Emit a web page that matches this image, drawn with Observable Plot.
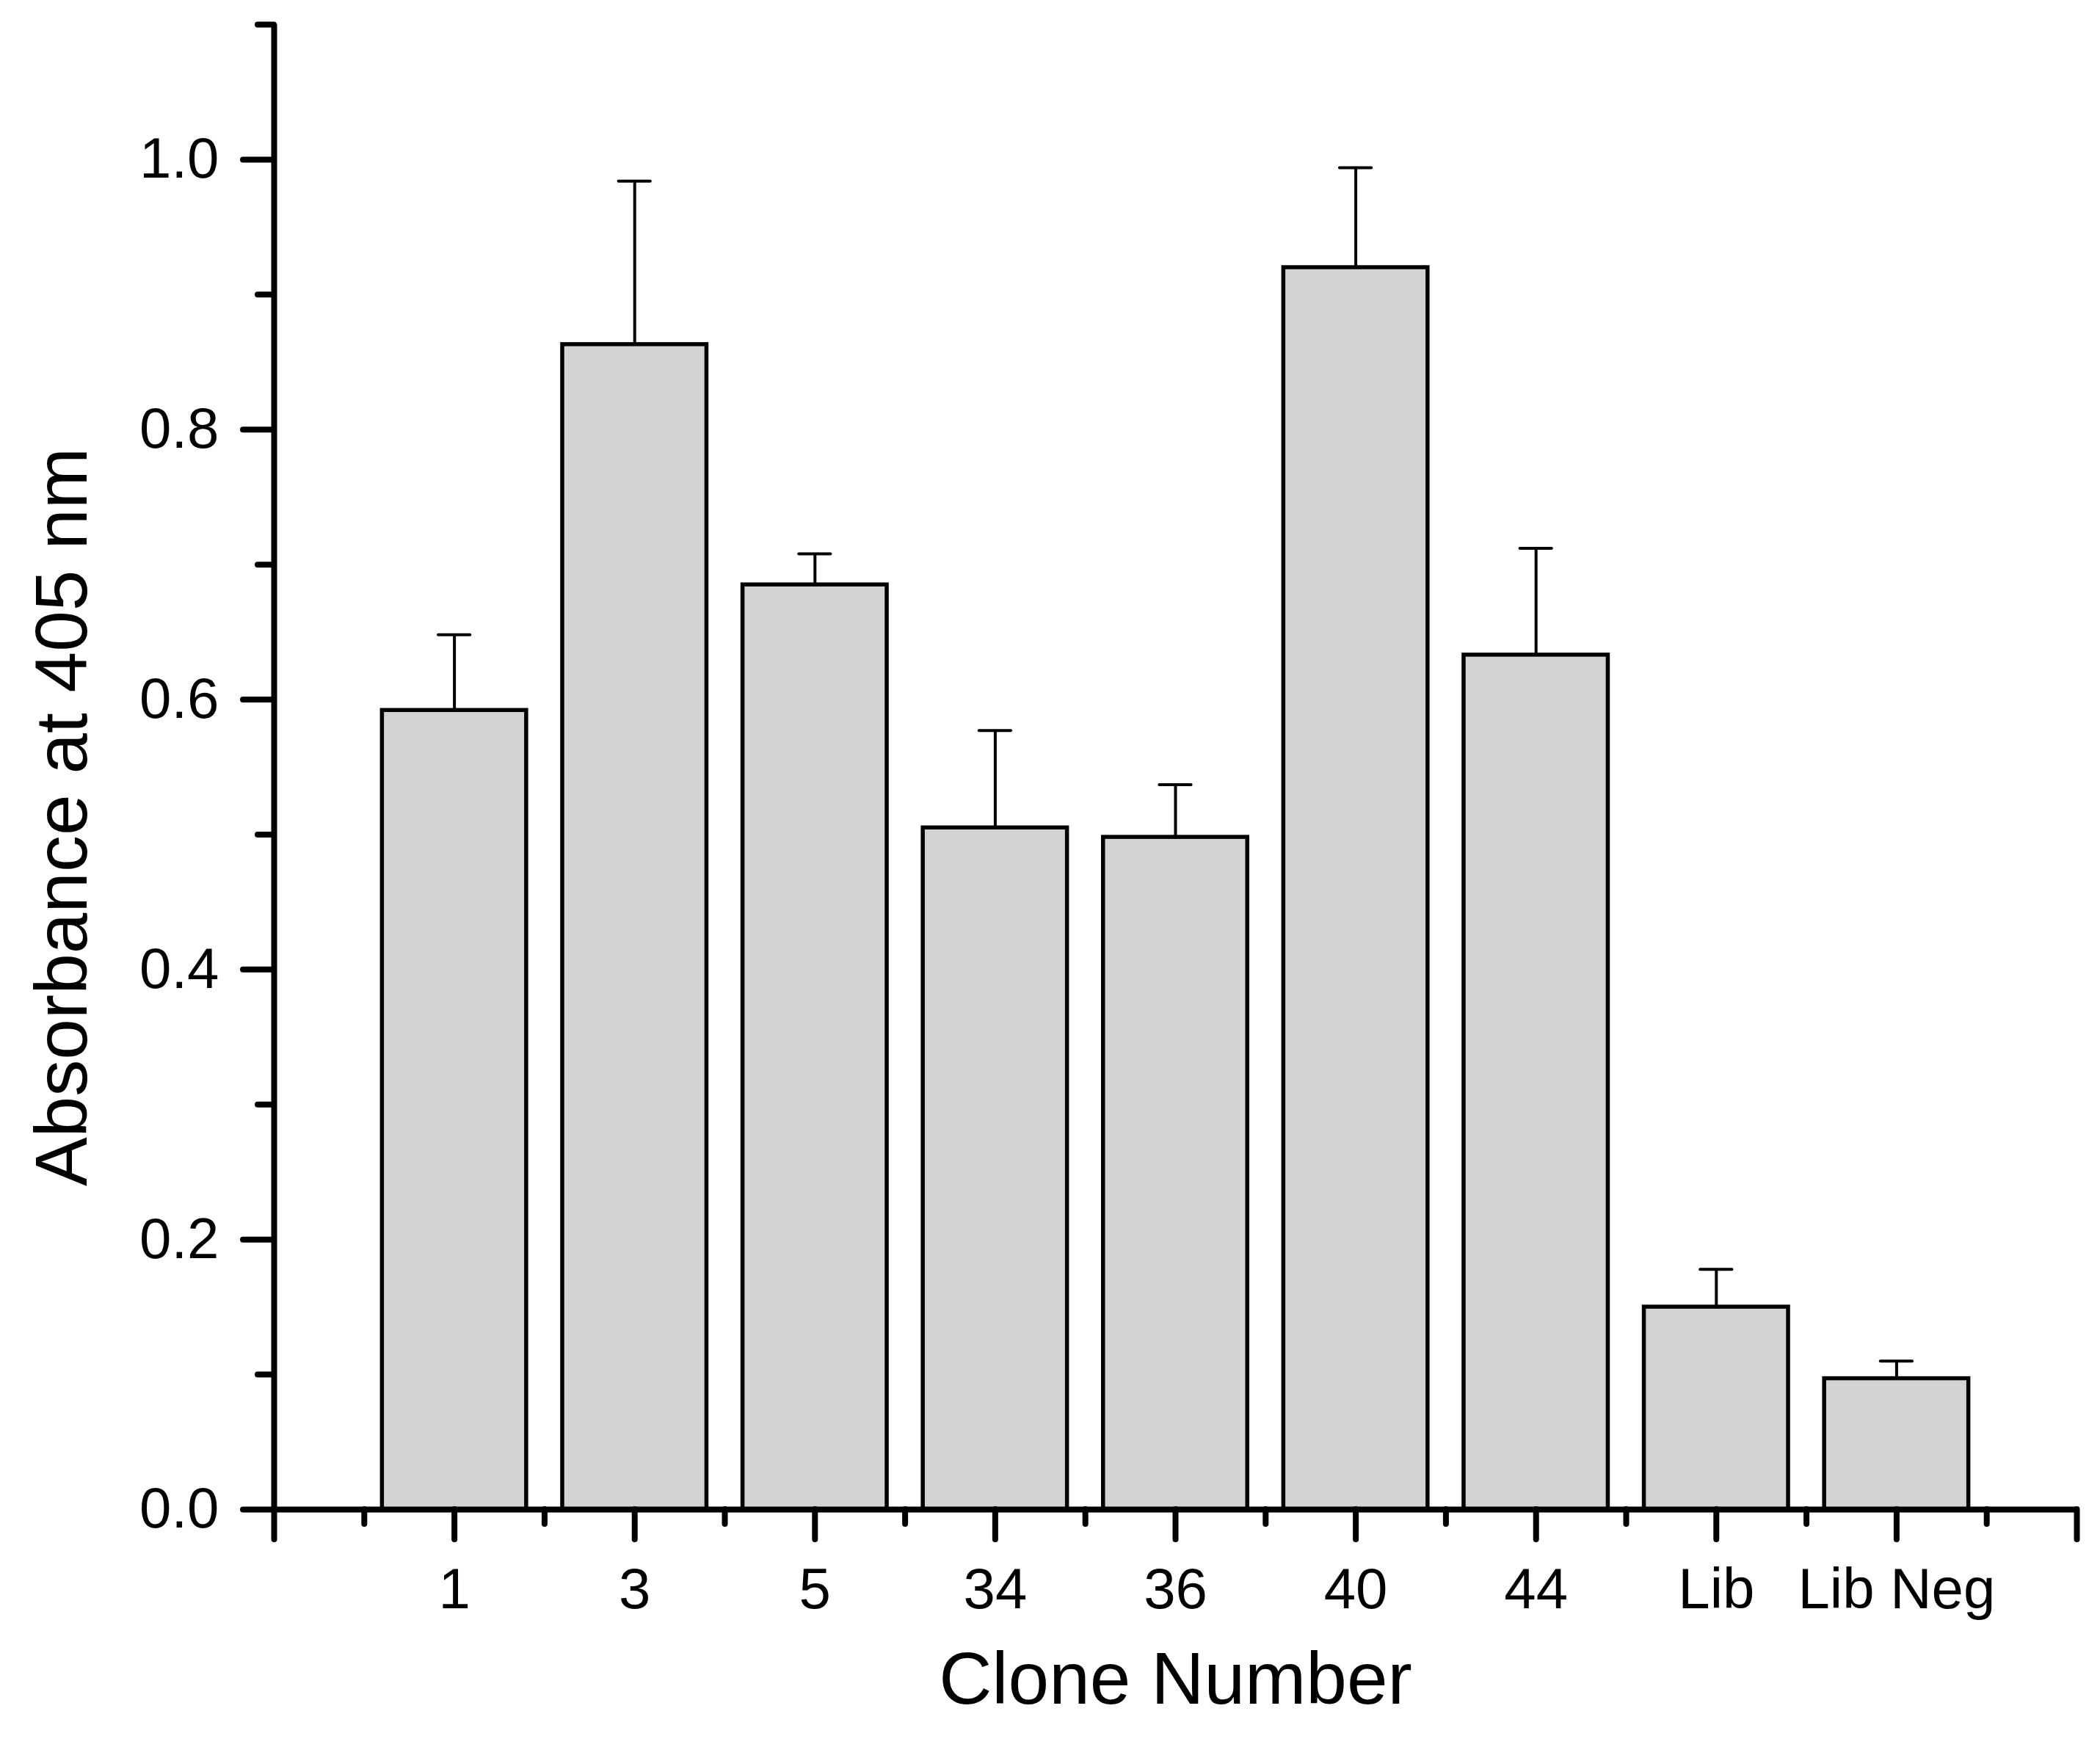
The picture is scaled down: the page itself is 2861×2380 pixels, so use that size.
<!DOCTYPE html>
<html>
<head>
<meta charset="utf-8">
<script src="https://cdn.jsdelivr.net/npm/d3@7"></script>
<script src="https://cdn.jsdelivr.net/npm/@observablehq/plot@0.6"></script>
<style>
  html, body { margin: 0; padding: 0; background: #ffffff; }
  #chart svg { display: block; }
</style>
</head>
<body>
<div id="chart"></div>
<script>
// ---- data ----
const clones = ["1", "3", "5", "34", "36", "40", "44", "Lib", "Lib Neg"];
const absorbance = [0.592, 0.863, 0.685, 0.505, 0.498, 0.920, 0.633, 0.150, 0.097];
const errorUp = [0.056, 0.121, 0.023, 0.072, 0.039, 0.074, 0.079, 0.028, 0.013];

// axis tick values
const yMajorTicks = [0, 0.2, 0.4, 0.6, 0.8, 1.0];
const yMinorTicks = [0.1, 0.3, 0.5, 0.7, 0.9, 1.1];
const xMajorTicks = [0, 1, 2, 3, 4, 5, 6, 7, 8, 9, 10];
const xMinorTicks = [0.5, 1.5, 2.5, 3.5, 4.5, 5.5, 6.5, 7.5, 8.5, 9.5];
const xLabelTicks = [1, 2, 3, 4, 5, 6, 7, 8, 9];

const xTitle = "Clone Number";
const yTitle = "Absorbance at 405 nm";

const table = clones.map((c, i) => ({
  clone: c,
  pos: i + 1,
  mean: absorbance[i],
  top: absorbance[i] + errorUp[i]
}));

const barHalf = 0.4;
const capHalf = 0.088;
const FONT = "'Liberation Sans', Arial, Helvetica, sans-serif";

const chart = Plot.plot({
  width: 2861,
  height: 2380,
  marginLeft: 373,
  marginRight: 32,
  marginTop: 33,
  marginBottom: 324,
  style: { fontFamily: FONT, fontSize: "78px", background: "#ffffff", color: "#000000" },
  x: { type: "linear", domain: [0, 10] },
  y: { domain: [0, 1.1] },
  marks: [
    // bars
    Plot.rectY(table, {
      x1: d => d.pos - barHalf,
      x2: d => d.pos + barHalf,
      y: "mean",
      fill: "#d3d3d3",
      stroke: "#000000",
      strokeWidth: 5.5
    }),
    // error bar stems
    Plot.ruleX(table, { x: "pos", y1: "mean", y2: "top", stroke: "#000000", strokeWidth: 4 }),
    // error bar caps
    Plot.ruleY(table, {
      y: "top",
      x1: d => d.pos - capHalf,
      x2: d => d.pos + capHalf,
      stroke: "#000000",
      strokeWidth: 4,
      strokeLinecap: "round"
    }),
    // y axis: major ticks with labels
    Plot.axisY(yMajorTicks, {
      tickSize: 42,
      tickPadding: 33,
      tickFormat: d3.format(".1f"),
      strokeWidth: 8,
      strokeLinecap: "round",
      fontSize: 78,
      label: null
    }),
    // y axis: minor ticks
    Plot.axisY(yMinorTicks, {
      tickSize: 22,
      tickFormat: () => "",
      strokeWidth: 8,
      strokeLinecap: "round",
      label: null
    }),
    // x axis: major ticks
    Plot.axisX(xMajorTicks, {
      tickSize: 41,
      tickFormat: () => "",
      strokeWidth: 8,
      strokeLinecap: "round",
      label: null
    }),
    // x axis: minor ticks
    Plot.axisX(xMinorTicks, {
      tickSize: 20,
      tickFormat: () => "",
      strokeWidth: 8,
      strokeLinecap: "round",
      label: null
    }),
    // x axis: category labels
    Plot.axisX(xLabelTicks, {
      tickSize: 0,
      tickPadding: 79,
      tickFormat: d => clones[d - 1],
      fontSize: 78,
      label: null
    }),
    // axis lines
    Plot.ruleX([0], { stroke: "#000000", strokeWidth: 8 }),
    Plot.ruleY([0], { stroke: "#000000", strokeWidth: 8 }),
    // axis titles
    Plot.text([yTitle], {
      text: d => d,
      frameAnchor: "left",
      textAnchor: "middle",
      rotate: -90,
      dx: -288,
      dy: 68,
      fontSize: 100,
      fill: "#000000"
    }),
    Plot.text([xTitle], {
      text: d => d,
      frameAnchor: "bottom",
      textAnchor: "middle",
      dy: 264,
      fontSize: 100,
      fill: "#000000"
    })
  ]
});

document.getElementById("chart").appendChild(chart);
</script>
</body>
</html>
